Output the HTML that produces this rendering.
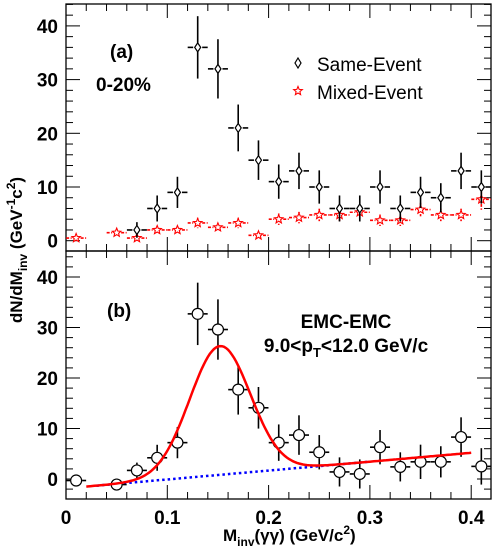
<!DOCTYPE html>
<html><head><meta charset="utf-8"><style>
body{margin:0;background:#fff}
svg text{font-family:"Liberation Sans",Arial,sans-serif;font-weight:bold}
</style></head><body>
<svg id="c" width="495" height="546" xmlns="http://www.w3.org/2000/svg"></svg>
<script>
const xs=[0.01,0.03,0.05,0.07,0.09,0.11,0.13,0.15,0.17,0.19,0.21,0.23,0.25,0.27,0.29,0.31,0.33,0.35,0.37,0.39,0.41];
const sameVals=[null,null,null,2,6,9,36,32,21,15,11,13,10,6,6,10,6,9,8,13,10];
const sameErrs=[0,0,0,1.5,2.5,3,6,5.7,4.5,3.8,3.3,3.5,3.2,2.5,2.5,3.2,2.5,3,2.8,3.5,3.2];
const mixVals=[0.5,null,1.5,0.5,2,2,3.3,2.5,3.3,1,4,4.3,4.8,4.8,5.3,3.8,3.8,5.8,4.8,4.8,7.7];
const mixErrs=[0.5,0,0.6,0.6,0.7,0.7,1,0.8,1,0.7,1.1,1.1,1.2,1.2,1.3,1.1,1.1,1.3,1.2,1.2,2];
const bVals=[-0.3,null,-1.1,1.7,4.2,7.2,32.7,29.6,17.7,14.1,7.2,8.7,5.3,1.4,1.0,6.3,2.4,3.4,3.4,8.3,2.5];
const bErrs=[0.4,0,0.5,1.5,2.5,3,6,5.8,4.8,4,3.5,3.8,3.3,2.8,2.8,3.3,2.8,3.3,3,3.8,3.5];
const yTicks=[0,10,20,30,40];
const xTicks=[0,0.1,0.2,0.3,0.4];
const fitAmp=25.5, fitMean=0.152, fitSigma=0.03, bgSlope=17.6, bgInt=-1.85;

const svg=document.getElementById('c');const NS='http://www.w3.org/2000/svg';
function el(t,a,p){const e=document.createElementNS(NS,t);for(const k in a)e.setAttribute(k,a[k]);(p||svg).appendChild(e);return e;}
const X=v=>66+1013*v;
const L=66,R=491;
const Ya=v=>240.7-5.37*v;
const Yb=v=>479-5.05*v;
function frame(top,bot,Y,name,ymin,ymax){
  const g=el('g',{});
  
  
  el('rect',{x:L,y:top,width:R-L,height:bot-top,fill:'none',stroke:'#000','stroke-width':1.3},g);
  for(let v=Math.ceil(ymin/2)*2;v<=ymax;v+=2){const y=Y(v);if(y<top||y>bot)continue;const len=v%10===0?14:7;
    el('line',{x1:L,x2:L+len,y1:y,y2:y,stroke:'#000','stroke-width':1},g);
    el('line',{x1:R,x2:R-len,y1:y,y2:y,stroke:'#000','stroke-width':1},g);}
  for(let i=0;i<=21;i++){const v=i*0.02;const x=X(v);if(x>R)continue;const len=i%5===0?14:7;
    el('line',{x1:x,x2:x,y1:bot,y2:bot-len,stroke:'#000','stroke-width':1},g);
    el('line',{x1:x,x2:x,y1:top,y2:top+len,stroke:'#000','stroke-width':1},g);}
  yTicks.forEach(v=>{const t=el('text',{x:L-8,y:Y(v)+7,'text-anchor':'end','font-size':19},g);t.textContent=v;
    });
}
frame(4,251,Ya,'panel-a-frame',-2,44);
frame(251,499,Yb,'panel-b-frame',-4,45);
xTicks.forEach(v=>{const t=el('text',{x:X(v),y:524,'text-anchor':'middle','font-size':19});t.textContent=v;
  });

function points(vals,errs,Y,color,shape,name,dashed){
  const g=el('g',{});
  
  
  vals.forEach((v,i)=>{if(v===null)return;const x=X(xs[i]),y=Y(v),e=errs[i]*5.2;const gap=shape==='circle'?6:4.5;
    const sa={stroke:color,'stroke-width':1.6};if(dashed)sa['stroke-dasharray']='3,1.5';
    el('line',Object.assign({x1:x-10,x2:x-gap,y1:y,y2:y},sa),g);
    el('line',Object.assign({x1:x+gap,x2:Math.min(x+10,R),y1:y,y2:y},sa),g);
    if(e>gap){el('line',Object.assign({x1:x,x2:x,y1:y-gap,y2:y-e},sa),g);
      el('line',Object.assign({x1:x,x2:x,y1:y+gap,y2:Math.min(y+e,shape==='circle'?499:251)},sa),g);}
    let m;
    if(shape==='diamond')m=el('polygon',{points:`${x},${y-4.5} ${x+3},${y} ${x},${y+4.5} ${x-3},${y}`,fill:'#fff',stroke:color,'stroke-width':1.2},g);
    else if(shape==='circle')m=el('circle',{cx:x,cy:y,r:5.5,fill:'#fff',stroke:color,'stroke-width':1.2},g);
    else{let p=[];for(let k=0;k<10;k++){const r=k%2?2:4.5,a=-Math.PI/2+k*Math.PI/5;p.push((x+r*Math.cos(a)).toFixed(1)+','+(y+r*Math.sin(a)).toFixed(1));}
      m=el('polygon',{points:p.join(' '),fill:'#fff',stroke:color,'stroke-width':1.1},g);}
    
  });
}
points(mixVals,mixErrs,Ya,'#f00','star','mixed-event-series',true);
points(sameVals,sameErrs,Ya,'#000','diamond','same-event-series',false);

let bg=[],fit=[];
for(let v=0.03;v<=0.3001;v+=0.005)bg.push(X(v).toFixed(1)+','+Yb(bgSlope*v+bgInt).toFixed(1));
for(let v=0.02;v<=0.4001;v+=0.002)fit.push(X(v).toFixed(1)+','+Yb(bgSlope*v+bgInt+fitAmp*Math.exp(-((v-fitMean)**2)/(2*fitSigma**2))).toFixed(1));
const b=el('polyline',{points:bg.join(' '),fill:'none',stroke:'#00f','stroke-width':2.5,'stroke-dasharray':'2.5,3'});

points(bVals,bErrs,Yb,'#000','circle','signal-series',false);
const f=el('polyline',{points:fit.join(' '),fill:'none',stroke:'#f00','stroke-width':2.5});


function txt(s,x,y,size,name,anchor){const t=el('text',{x:x,y:y,'font-size':size,'text-anchor':anchor||'start'});t.innerHTML=s;
  return t;}
txt('(a)',110,58,19,'panel-a-label');
txt('0-20%',96,91,19,'centrality-label');
txt('(b)',107,317,19,'panel-b-label');
txt('EMC-EMC',346,328,19,'emc-label','middle');
txt('9.0&lt;p<tspan font-size="13" dy="5">T</tspan><tspan dy="-5">&lt;12.0 GeV/c</tspan>',346,352,19,'pt-range-label','middle');
const lg=el('g',{});
el('polygon',{points:'298,58 301,63 298,68 295,63',fill:'#fff',stroke:'#000','stroke-width':1.2},lg);
let sp=[];for(let k=0;k<10;k++){const r=k%2?2:4.5,a=-Math.PI/2+k*Math.PI/5;sp.push((298+r*Math.cos(a)).toFixed(1)+','+(91+r*Math.sin(a)).toFixed(1));}
el('polygon',{points:sp.join(' '),fill:'#fff',stroke:'#f00','stroke-width':1.1},lg);
const l1=el('text',{x:317,y:71,'font-size':19,style:'font-weight:normal'},lg);l1.textContent='Same-Event';
const l2=el('text',{x:317,y:99,'font-size':19,style:'font-weight:normal'},lg);l2.textContent='Mixed-Event';
txt('M<tspan font-size="12" dy="5">inv</tspan><tspan dy="-5">(γγ) (GeV/c</tspan><tspan font-size="12" dy="-7">2</tspan><tspan dy="7">)</tspan>',223,541,17,'x-axis-title');
const yt=txt('dN/dM<tspan font-size="12" dy="5">inv</tspan><tspan dy="-5"> (GeV</tspan><tspan font-size="12" dy="-7">-1</tspan><tspan dy="7">c</tspan><tspan font-size="12" dy="-7">2</tspan><tspan dy="7">)</tspan>',0,0,17,'y-axis-title','middle');
yt.setAttribute('transform','translate(22,250) rotate(-90)');
</script>
</body></html>
